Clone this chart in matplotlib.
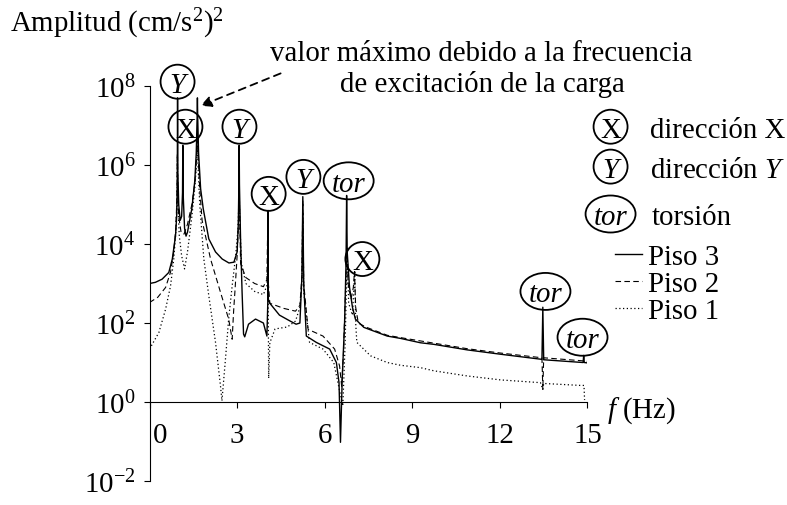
import numpy as np
import matplotlib
matplotlib.use('Agg')
import matplotlib.pyplot as plt
from matplotlib.patches import Ellipse
from matplotlib.transforms import ScaledTranslation

plt.rcParams['font.family'] = 'Liberation Serif'
plt.rcParams['mathtext.fontset'] = 'custom'
plt.rcParams['mathtext.rm'] = 'Liberation Serif'
plt.rcParams['mathtext.it'] = 'Liberation Serif:italic'

FS = 20.8

##############################
# spectra, f [Hz] / log10(A) #
##############################
f_p3 = [0.0, 0.2, 0.43, 0.66, 0.78, 0.89, 0.93, 0.95, 0.96, 0.97, 1.0, 1.05,
        1.1, 1.13, 1.14, 1.15, 1.2, 1.25, 1.3, 1.45, 1.55, 1.6, 1.63, 1.64,
        1.65, 1.68, 1.75, 1.84, 2.03, 2.26, 2.49, 2.72, 2.89, 3.0, 3.04, 3.06,
        3.07, 3.08, 3.12, 3.17, 3.22, 3.26, 3.39, 3.63, 3.9, 4.02, 4.05, 4.06,
        4.07, 4.12, 4.45, 4.79, 5.02, 5.15, 5.22, 5.25, 5.28, 5.37, 5.71, 6.17,
        6.4, 6.49, 6.54, 6.6, 6.68, 6.73, 6.75, 6.77, 6.85, 6.95, 7.05, 7.34,
        8.14, 8.6, 9.28, 9.74, 10.88, 12.02, 13.44, 13.47, 13.5, 14.85, 14.87,
        14.89, 15.0]
log_p3 = [3.0, 3.03, 3.11, 3.28, 3.62, 4.21, 4.7, 5.5, 7.7, 5.8, 5.0, 4.6,
          4.7, 5.3, 6.5, 5.3, 4.4, 4.2, 4.3, 4.9, 5.6, 6.3, 7.2, 7.7,
          7.2, 6.3, 5.4, 4.89, 4.13, 3.8, 3.62, 3.52, 3.54, 3.8, 4.5, 5.5,
          6.5, 5.5, 4.05, 2.78, 1.72, 1.65, 1.97, 2.1, 2.0, 1.67, 2.5, 4.85,
          2.6, 2.5, 2.2, 2.06, 1.97, 2.0, 3.2, 5.2, 3.0, 1.67, 1.51, 1.34,
          1.0, 0.49, -1.02, 0.6, 2.0, 3.5, 5.23, 3.8, 2.9, 2.4, 2.1, 1.89,
          1.67, 1.61, 1.5, 1.46, 1.32, 1.21, 1.08, 2.4, 1.07, 1.0, 1.18,
          1.0, 0.99]

f_p2 = [0.0, 0.28, 0.55, 0.72, 0.83, 0.9, 0.94, 0.955, 0.97, 1.0, 1.08, 1.18,
        1.3, 1.45, 1.56, 1.62, 1.64, 1.66, 1.72, 1.8, 2.09, 2.43, 2.71, 2.83,
        2.88, 2.93, 3.0, 3.05, 3.07, 3.09, 3.12, 3.3, 3.6, 3.9, 4.02, 4.055,
        4.07, 4.12, 4.6, 5.0, 5.15, 5.22, 5.25, 5.28, 5.43, 5.94, 6.34, 6.51,
        6.58, 6.64, 6.72, 6.76, 6.8, 6.9, 6.98, 7.02, 7.06, 7.15, 7.4, 8.14,
        8.6, 9.74, 10.88, 12.02, 13.44, 13.47, 13.5, 14.88, 15.0]
log_p2 = [2.52, 2.65, 2.9, 3.29, 3.8, 4.4, 5.2, 6.3, 5.4, 4.7, 4.3, 4.25,
          4.5, 5.0, 5.6, 6.3, 6.8, 6.3, 5.4, 4.6, 3.62, 2.78, 2.1, 1.59,
          2.3, 2.86, 3.7, 4.6, 5.5, 4.6, 3.5, 3.15, 3.0, 2.92, 3.1, 4.84,
          3.0, 2.5, 2.37, 2.3, 2.45, 3.2, 5.1, 3.0, 1.84, 1.67, 1.34, 0.91,
          0.4, 1.2, 3.0, 3.9, 3.0, 2.6, 2.9, 3.3, 2.4, 2.0, 1.9, 1.69,
          1.63, 1.49, 1.35, 1.24, 1.12, 0.32, 1.12, 1.04, 1.03]

f_p1 = [0.0, 0.32, 0.55, 0.72, 0.83, 0.9, 0.94, 0.955, 0.97, 1.02, 1.1, 1.2,
        1.3, 1.45, 1.56, 1.62, 1.64, 1.66, 1.72, 1.86, 2.03, 2.26, 2.43, 2.48,
        2.6, 2.71, 2.83, 2.95, 3.03, 3.07, 3.1, 3.15, 3.3, 3.6, 3.9, 4.02,
        4.055, 4.08, 4.12, 4.3, 4.72, 5.0, 5.15, 5.22, 5.25, 5.28, 5.48, 5.94,
        6.31, 6.5, 6.62, 6.7, 6.77, 6.82, 6.95, 7.03, 7.06, 7.1, 7.57, 8.14,
        8.6, 9.28, 9.74, 10.88, 12.02, 13.39, 13.47, 13.5, 14.76, 14.88, 14.9]
log_p1 = [1.34, 1.76, 2.35, 2.94, 3.62, 4.3, 5.1, 6.2, 5.0, 4.2, 3.7, 3.37,
          3.8, 4.7, 5.5, 6.2, 6.5, 6.0, 5.0, 3.62, 2.69, 1.51, 0.41, 0.03,
          1.08, 2.1, 2.94, 3.7, 4.4, 5.3, 4.4, 3.5, 3.0, 2.8, 2.72, 2.95,
          3.8, 0.6, 1.5, 1.85, 1.9, 2.05, 2.4, 3.0, 4.8, 2.8, 1.51, 1.34,
          1.0, 0.32, -0.1, 1.5, 3.8, 2.5, 2.2, 3.33, 2.0, 1.51, 1.17, 1.0,
          0.93, 0.87, 0.79, 0.66, 0.56, 0.49, 0.32, 0.47, 0.42, 0.42, 0.05]

# mode labels: f, log10(A), text, kind
modes = [(0.96, 8.11, 'Y', 'c'), (1.23, 6.97, 'X', 'c'), (3.08, 6.97, 'Y', 'c'),
         (4.08, 5.27, 'X', 'c'), (5.27, 5.70, 'Y', 'c'), (6.82, 5.60, 'tor', 'e'),
         (7.29, 3.62, 'X', 'c'), (13.56, 2.80, 'tor', 'e'), (14.83, 1.64, 'tor', 'e')]

y_ticks = [-2, 0, 2, 4, 6, 8]
x_ticks = [0, 3, 6, 9, 12, 15]


def ring(ax, f, la, txt, kind):
    # outline drawn in inches around the data point so circles stay round
    w, h = (0.34, 0.34) if kind == 'c' else (0.50, 0.37)
    tr = ax.figure.dpi_scale_trans + ScaledTranslation(f, 10**la, ax.transData)
    ax.add_artist(Ellipse((0, 0), w, h, transform=tr, fill=False, lw=1.3,
                          color='k', clip_on=False))
    st = 'normal' if txt == 'X' else 'italic'
    ax.text(f, 10**la, txt, ha='center', va='center_baseline', fontsize=FS,
            style=st, clip_on=False)


fig = plt.figure(figsize=(7.87, 5.06), dpi=100)
ax = fig.add_axes([0.19, 0.0474, 0.5565, 0.7806])

ax.plot(f_p3, 10**np.array(log_p3), 'k-', lw=1.0, label='Piso 3')
ax.plot(f_p2, 10**np.array(log_p2), color='k', ls=(0, (5, 3)), lw=0.8, label='Piso 2')
ax.plot(f_p1, 10**np.array(log_p1), color='k', ls=(0, (1, 2)), lw=0.9, label='Piso 1')

ax.set_yscale('log')
ax.set_xlim(0, 15)
ax.set_ylim(1e-2, 1e8)
ax.set_yticks([10.0**k for k in y_ticks])
ax.set_yticklabels(['$10^{%d}$' % k for k in y_ticks])
ax.yaxis.set_minor_locator(matplotlib.ticker.NullLocator())
ax.set_xticks(x_ticks)
ax.set_xticklabels([str(k) for k in x_ticks])

ax.spines['top'].set_visible(False)
ax.spines['right'].set_visible(False)
ax.spines['bottom'].set_position(('data', 1))
ax.tick_params(axis='both', direction='out', length=4.3, width=0.8,
               labelsize=FS, colors='k')
ax.tick_params(axis='y', pad=6)
ax.tick_params(axis='x', pad=10)
for lab in ax.get_xticklabels()[:1]:
    lab.set_transform(lab.get_transform() + ScaledTranslation(0.11, 0, fig.dpi_scale_trans))

for f, la, txt, kind in modes:
    ring(ax, f, la, txt, kind)

# key for the mode symbols
ring(ax, 15.79, 6.97, 'X', 'c')
ring(ax, 15.79, 5.96, 'Y', 'c')
ring(ax, 15.79, 4.76, 'tor', 'e')
ax.text(17.15, 10**6.97, 'dirección X', va='center_baseline', fontsize=FS, clip_on=False)
ax.text(17.15, 10**5.96, 'dirección $Y$', va='center_baseline', fontsize=FS, clip_on=False)
ax.text(17.2, 10**4.76, 'torsión', va='center_baseline', fontsize=FS, clip_on=False)

ax.legend(loc='upper left', bbox_to_anchor=(615/787, 1-245/506),
          bbox_transform=fig.transFigure, frameon=False, fontsize=FS,
          handlelength=0.95, handletextpad=0.2, labelspacing=0.02,
          borderpad=0, borderaxespad=0)

fig.text(10/787, 1-32/506, 'Amplitud (cm/s$^2$)$^2$', fontsize=FS, va='baseline')
ax.text(15.68, 10**-0.19, '$f$ (Hz)', fontsize=FS, va='center', clip_on=False)

fig.text(481/787, 1-61/506, 'valor máximo debido a la frecuencia', fontsize=FS,
         ha='center', va='baseline')
fig.text(482/787, 1-92/506, 'de excitación de la carga', fontsize=FS,
         ha='center', va='baseline')
ax.annotate('', xy=(1.75, 10**7.5), xytext=(4.49, 10**8.32),
            arrowprops=dict(arrowstyle='-|>', ls=(0, (4, 3)), lw=1.3,
                            color='k', mutation_scale=16, shrinkA=0, shrinkB=0),
            annotation_clip=False)

fig.savefig('out.png', dpi=100)
